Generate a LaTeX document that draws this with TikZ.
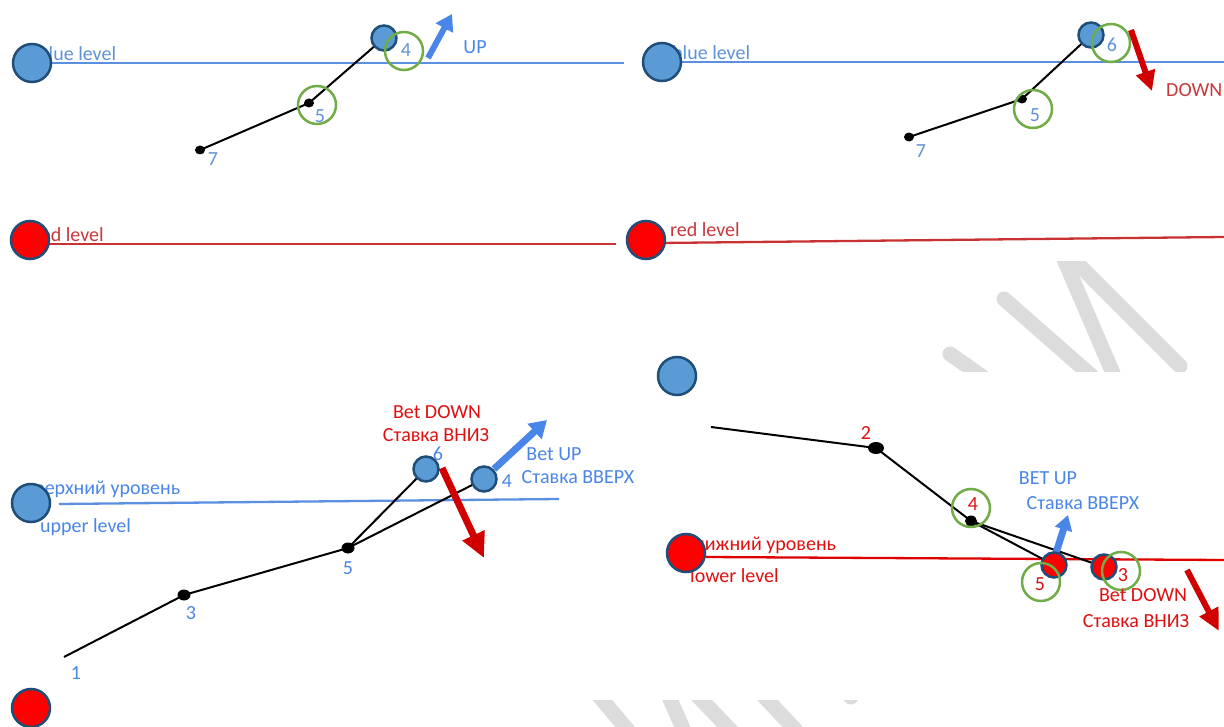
\documentclass[tikz,border=0pt]{standalone}
\usepackage{fontspec}
\setmainfont{Carlito}
\usetikzlibrary{arrows.meta,shapes.geometric}
\pgfdeclarelayer{wm}
\pgfdeclarelayer{bg}
\pgfsetlayers{wm,bg,main}
\definecolor{cfill}{HTML}{5B9BD5}
\definecolor{cborder}{HTML}{1F4E79}
\definecolor{cred}{HTML}{FF0000}
\definecolor{cgreen}{HTML}{70AD47}
\definecolor{tblue}{HTML}{4A86E8}
\definecolor{tbluetop}{HTML}{5F92DA}
\definecolor{tred}{HTML}{E01010}
\definecolor{tredtop}{HTML}{C8383C}
\definecolor{ablue}{HTML}{4A86E8}
\definecolor{ared}{HTML}{D00000}
\definecolor{lblue}{HTML}{5B8FE0}
\definecolor{lred}{HTML}{C83232}
\definecolor{lred2}{HTML}{E00000}
\definecolor{wmgray}{HTML}{DCDCDC}
\tikzset{
  big/.style={circle, draw=cborder, line width=2.5pt, minimum size=38pt, inner sep=0pt},
  bigB/.style={big, fill=cfill},
  bigR/.style={big, fill=cred},
  smallB/.style={circle, draw=cborder, line width=2.5pt, minimum size=25pt, inner sep=0pt, fill=cfill},
  smallR/.style={circle, draw=cborder, line width=2.5pt, minimum size=25pt, inner sep=0pt, fill=cred},
  ring/.style={circle, draw=cgreen, line width=2.5pt, minimum size=38pt, inner sep=0pt},
  dot/.style={ellipse, fill=black, minimum width=10pt, minimum height=9pt, inner sep=0pt},
  bigdot/.style={ellipse, fill=black, minimum width=13pt, minimum height=11pt, inner sep=0pt},
  lbl/.style={font=\fontsize{20pt}{24pt}\selectfont, inner sep=0pt},
  txtB/.style={lbl, text=tblue},
  txtBt/.style={lbl, text=tbluetop},
  txtR/.style={lbl, text=tred},
  txtRt/.style={lbl, text=tredtop},
  chart/.style={draw=black, line width=2pt},
  lvl/.style={line width=2.3pt},
  uparrow/.style={draw=ablue, line width=7pt, -{Triangle[length=17pt,width=20pt]}},
  dnarrow/.style={draw=ared, line width=7pt, -{Triangle[length=22pt,width=22pt]}},
  wmline/.style={draw=wmgray, line width=15pt, line cap=round},
}
\begin{document}
\begin{tikzpicture}[x=1pt,y=-1pt]
\useasboundingbox (0,0) rectangle (1224,727);

% ---------- watermark fragments ----------
\begin{pgfonlayer}{wm}
\fill[white] (0,0) rectangle (1224,727);
\begin{scope}
  \clip (560,262) rectangle (1224,372);
  \draw[draw=wmgray, line width=11pt] (979,250) arc[start angle=180, end angle=360, radius=20];
  \draw[wmline] (1004,299) -- (1110,392);
  \draw[wmline] (1060,250) -- (1118,385);
  \draw[wmline] (1066,252) -- (1180,366);
  \draw[wmline] (950,354) -- (1010,396);
\end{scope}
\begin{scope}
  \clip (560,700) rectangle (900,727);
  \draw[wmline, line cap=butt] (594,690) -- (636,740);
  \draw[wmline, line cap=butt] (666,690) -- (688,740);
  \draw[wmline, line cap=butt] (692,690) -- (740,740);
  \draw[wmline, line cap=butt] (758,690) -- (805,740);
  \draw[wmline] (851,697) -- (838,680);
\end{scope}
\end{pgfonlayer}

% ================= TOP LEFT =================
\node[txtBt, anchor=base west] (tlBt) at (38,61) {blue level};
\node[txtRt, anchor=base west] (tlRt) at (34,242) {red level};
\node[bigB] (tlB) at (32,63) {};
\node[bigR] (tlR) at (30,240) {};
\coordinate (tlBe) at (624,63);
\coordinate (tlRs) at (40,244);
\coordinate (tlRe) at (616,244);
\node[dot] (tl7) at (200,150) {};
\node[dot] (tl5) at (309,103) {};
\node[smallB] (tl4) at (384,38) {};
\node[ring] (tl4r) at (404,51) {};
\node[ring] (tl5r) at (317,105) {};
\coordinate (tlUa) at (428,58);
\coordinate (tlUb) at (452,14);
\begin{pgfonlayer}{bg}
  \draw[lvl, draw=lblue] (tlB.center) -- (tlBe);
  \draw[lvl, draw=lred] (tlRs) -- (tlRe);
  \draw[chart] (tl7.center) -- (tl5.center) -- (tl4.center);
\end{pgfonlayer}
\draw[uparrow, line width=6pt, -{Triangle[length=16pt,width=19pt]}] (tlUa) -- (tlUb);
\node[txtBt] (tl4l) at (406,50) {4};
\node[txtBt] (tl5l) at (320,116) {5};
\node[txtBt] (tl7l) at (213,159) {7};
\node[txtB] (tlUP) at (475,47) {UP};

% ================= TOP RIGHT =================
\node[txtBt, anchor=base west] (trBt) at (672,60) {blue level};
\node[txtRt, anchor=base west] (trRt) at (670,237) {red level};
\node[bigB] (trB) at (662,62) {};
\node[bigR] (trR) at (646,240) {};
\coordinate (trBe) at (1224,62);
\coordinate (trRs) at (660,243);
\coordinate (trRe) at (1224,237);
\node[dot] (tr7) at (909,137) {};
\node[dot] (tr5) at (1022,99) {};
\node[smallB] (tr6) at (1091,35) {};
\node[ring] (tr6r) at (1111,43) {};
\node[ring] (tr5r) at (1033,109) {};
\coordinate (trDa) at (1131,30);
\coordinate (trDb) at (1152,91);
\begin{pgfonlayer}{bg}
  \draw[lvl, draw=lblue] (trB.center) -- (trBe);
  \draw[lvl, draw=lred] (trRs) -- (trRe);
  \draw[chart] (tr7.center) -- (tr5.center) -- (tr6.center);
\end{pgfonlayer}
\draw[dnarrow, line width=6pt, -{Triangle[length=20pt,width=19pt]}] (trDa) -- (trDb);
\node[txtBt] (tr6l) at (1112,45) {6};
\node[txtBt] (tr5l) at (1035,115) {5};
\node[txtBt] (tr7l) at (921,151) {7};
\node[txtRt, anchor=west] (trDOWN) at (1166,90) {DOWN};

% ================= BOTTOM LEFT =================
\node[txtB, anchor=base west] (blBt) at (35,494) {верхний уровень};
\node[txtB, anchor=base west] (blBt2) at (40,532) {upper level};
\node[bigB] (blB) at (31,503) {};
\node[bigR] (blR) at (31,708) {};
\coordinate (blLs) at (59,504);
\coordinate (blLe) at (559,499);
\coordinate (bl1) at (64,657);
\node[bigdot] (bl3) at (184,595) {};
\node[bigdot] (bl5) at (348,548) {};
\node[smallB] (bl6) at (426,469) {};
\node[smallB] (bl4) at (484,479) {};
\coordinate (blDa) at (442,468);
\coordinate (blDb) at (484,558);
\coordinate (blUa) at (494,469);
\coordinate (blUb) at (547,420);
\begin{pgfonlayer}{bg}
  \draw[lvl, draw=lblue] (blLs) -- (blLe);
  \draw[chart] (bl1) -- (bl3.center) -- (bl5.center) -- (bl6.center);
  \draw[chart] (bl5.center) -- (bl4.center);
  \draw[uparrow] (blUa) -- (blUb);
\end{pgfonlayer}
\draw[dnarrow, -{Triangle[length=25pt,width=23pt]}] (blDa) -- (blDb);
\node[txtB] (bl1l) at (76,673) {1};
\node[txtB] (bl3l) at (191,613) {3};
\node[txtB] (bl5l) at (348,568) {5};
\node[txtB] (bl6l) at (438,454) {6};
\node[txtB] (bl4l) at (507,481) {4};
\node[txtR] (blDt1) at (437,412) {Bet DOWN};
\node[txtR] (blDt2) at (436,435) {Ставка ВНИЗ};
\node[txtB] (blUt1) at (554,454) {Bet UP};
\node[txtB] (blUt2) at (578,477) {Ставка ВВЕРХ};

% ================= BOTTOM RIGHT =================
\node[txtR, anchor=base west] (brRt) at (694,550) {нижний уровень};
\node[txtR, anchor=base west] (brRt2) at (690,582) {lower level};
\node[bigB] (brB) at (677,376) {};
\node[bigR] (brR) at (686,553) {};
\coordinate (brLs) at (706,557);
\coordinate (brLe) at (1224,560);
\coordinate (brS) at (711,427);
\node[bigdot, minimum width=16pt, minimum height=12pt] (br2) at (876,448) {};
\node[bigdot, minimum width=12pt, minimum height=11pt] (br4) at (971,521) {};
\node[smallR] (br5) at (1054,565) {};
\node[smallR] (br3) at (1104,567) {};
\coordinate (brUa) at (1056,553);
\coordinate (brUb) at (1068,515);
\coordinate (brDa) at (1187,570);
\coordinate (brDb) at (1219,631);
\begin{pgfonlayer}{bg}
  \draw[lvl, draw=lred2] (brLs) -- (brLe);
  \draw[chart] (brS) -- (br2.center) -- (br4.center) -- (br5.center);
  \draw[chart] (br4.center) -- (br3.center);
  \draw[uparrow, line width=7pt, -{Triangle[length=15pt,width=17pt]}] (brUa) -- (brUb);
\end{pgfonlayer}
\node[ring] (br4r) at (971,508) {};
\node[ring] (br5r) at (1041,582) {};
\node[ring] (br3r) at (1121,571) {};
\draw[dnarrow, line width=6pt, -{Triangle[length=22pt,width=20pt]}] (brDa) -- (brDb);
\node[txtR] (br2l) at (866,433) {2};
\node[txtR] (br4l) at (973,504) {4};
\node[txtR] (br5l) at (1040,584) {5};
\node[txtR] (br3l) at (1123,575) {3};
\node[txtB] (brUt1) at (1048,478) {BET UP};
\node[txtB] (brUt2) at (1083,503) {Ставка ВВЕРХ};
\node[txtR] (brDt1) at (1143,595) {Bet DOWN};
\node[txtR] (brDt2) at (1136,621) {Ставка ВНИЗ};
\end{tikzpicture}
\end{document}
